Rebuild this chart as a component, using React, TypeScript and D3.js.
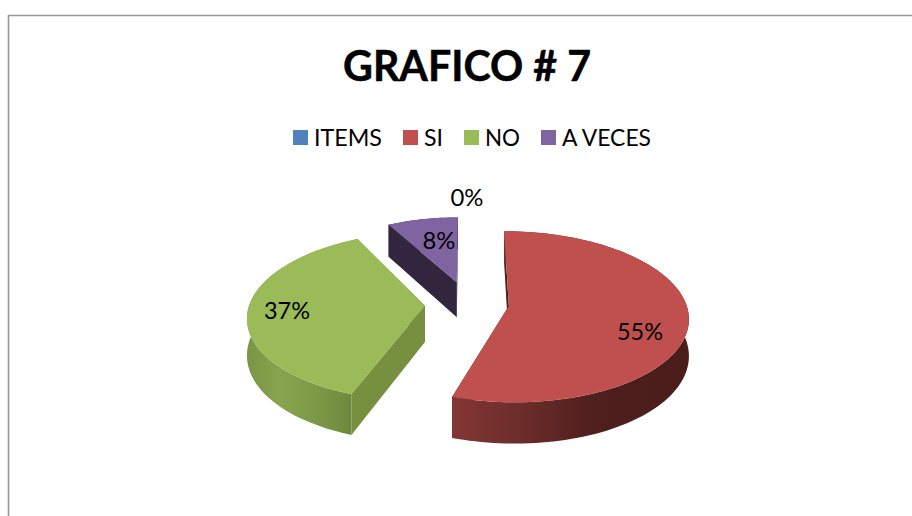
import * as d3 from "d3";

const categories = ["ITEMS", "SI", "NO", "A VECES"];
const values = [0, 55, 37, 8];
const percentLabels = ["0%", "55%", "37%", "8%"];
const colors = ["#4f81bd", "#c0504d", "#9bbb59", "#8064a2"];
const cutColors = ["#2c4d77", "#4a1e1c", "#76903f", "#32263f"];

// layout
const legendX = [293, 403, 464, 541];
const legendWidths = [68, 19, 35, 89];
const labelPos = [[467, 197], [640, 331], [287, 310], [439, 240]];
const nudgeY = [0, 2, 3, 0];
const radiusScale = [1, 1.03, 1.02, 0.94];
const turnDeg = [0, 0, 2, 0];

const cx = 467;
const cy = 301;
const rx = 172;
const ry = 81;
const perspective = 0.12;
const explode = 0.245;
const depth = 36;

type P = [number, number];

const project = (u: number, v: number, down = 0, nudge = 0): P => {
  const s = 1 / (1 - perspective * v);
  return [cx + rx * u * s, cy + nudge + ry * v * s + down * s];
};

const line = d3.line();
const pie = d3.pie<number>().sort(null).value((d) => d);
const arcs = pie(values);

const arcAngles = (a0: number, a1: number) => {
  const n = Math.max(2, Math.ceil((a1 - a0) / 0.03));
  return d3.range(n + 1).map((i) => a0 + ((a1 - a0) * i) / n);
};

const Slice = ({ index }: { index: number }) => {
  const a = arcs[index];
  const mid = (a.startAngle + a.endAngle) / 2;
  const ox = explode * Math.sin(mid);
  const oy = -explode * Math.cos(mid);
  const nudge = nudgeY[index];
  const r = radiusScale[index];
  const turn = (turnDeg[index] * Math.PI) / 180;
  const rim = (t: number, down = 0) =>
    project(ox + r * Math.sin(t + turn), oy - r * Math.cos(t + turn), down, nudge);
  const apex = (down = 0) => project(ox, oy, down, nudge);
  const angles = arcAngles(a.startAngle, a.endAngle);
  const top = [apex(), ...angles.map((t) => rim(t))];
  const wall = [
    ...angles.map((t) => rim(t)),
    ...angles.slice().reverse().map((t) => rim(t, depth)),
  ];
  const cut = (t: number) => [apex(), rim(t), rim(t, depth), apex(depth)];
  return (
    <g>
      <path d={line(cut(a.startAngle)) + "Z"} fill={cutColors[index]} />
      <path d={line(cut(a.endAngle)) + "Z"} fill={cutColors[index]} />
      <path d={line(wall) + "Z"} fill={`url(#wall${index})`} />
      <path d={line(top) + "Z"} fill={colors[index]} />
    </g>
  );
};

export default function App() {
  const font = "Lato, 'Open Sans', sans-serif";
  return (
    <svg
      width={912}
      height={516}
      style={{ position: "absolute", left: 0, top: 0, background: "#fff" }}
    >
      <defs>
        <linearGradient id="wall1" gradientUnits="userSpaceOnUse" x1={454} x2={691} y1={0} y2={0}>
          <stop offset="0" stopColor="#833634" />
          <stop offset="0.3" stopColor="#6a2c2a" />
          <stop offset="0.6" stopColor="#4e1f1d" />
          <stop offset="1" stopColor="#4a1c1a" />
        </linearGradient>
        <linearGradient id="wall2" gradientUnits="userSpaceOnUse" x1={246} x2={356} y1={0} y2={0}>
          <stop offset="0" stopColor="#7a9444" />
          <stop offset="0.3" stopColor="#87a44e" />
          <stop offset="0.65" stopColor="#7d9947" />
          <stop offset="1" stopColor="#6c863b" />
        </linearGradient>
        <linearGradient id="wall3" gradientUnits="userSpaceOnUse" x1={388} x2={459} y1={0} y2={0}>
          <stop offset="0" stopColor="#32263f" />
          <stop offset="1" stopColor="#32263f" />
        </linearGradient>
      </defs>

      <path d="M8.5,516V15.5H912" fill="none" stroke="#969696" strokeWidth={1.6} />

      <text
        x={467}
        y={81}
        textAnchor="middle"
        fontFamily={font}
        fontWeight={700}
        fontSize={42}
        stroke="#000"
        strokeWidth={0.5}
        textLength={248}
        lengthAdjust="spacingAndGlyphs"
      >
        GRAFICO # 7
      </text>

      {categories.map((c, i) => (
        <g key={c}>
          <rect x={legendX[i]} y={130} width={15} height={15} fill={colors[i]} />
          <text
            x={legendX[i] + 21}
            y={146}
            fontFamily={font}
            fontSize={23}
            textLength={legendWidths[i]}
            lengthAdjust="spacingAndGlyphs"
          >
            {c}
          </text>
        </g>
      ))}

      {[3, 2, 1].map((i) => (
        <Slice key={i} index={i} />
      ))}

      {percentLabels.map((l, i) => (
        <text
          key={l}
          x={labelPos[i][0]}
          y={labelPos[i][1] + 8.5}
          textAnchor="middle"
          fontFamily={font}
          fontSize={24}
          textLength={l.length === 3 ? 46 : 33}
          lengthAdjust="spacingAndGlyphs"
        >
          {l}
        </text>
      ))}
    </svg>
  );
}
